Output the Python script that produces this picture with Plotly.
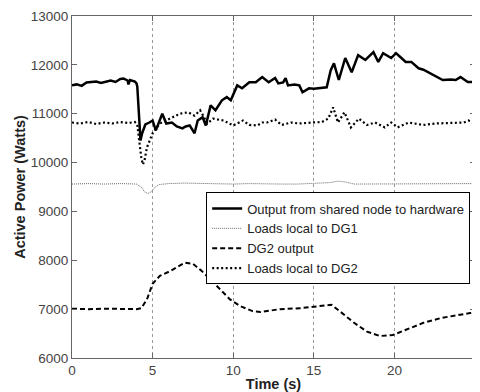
import plotly.graph_objects as go

# Output from shared node to hardware
t_shared = [0, 0.3, 0.6, 0.9, 1.2, 1.5, 1.8, 2.1, 2.4, 2.7, 3.0, 3.2, 3.45, 3.5, 3.6, 3.9, 4.0,
            4.05, 4.15, 4.25, 4.35, 4.55, 4.8, 5.0, 5.2, 5.4, 5.6, 5.85, 6.2, 6.5, 6.85, 7.05,
            7.3, 7.6, 7.8, 8.1, 8.3, 8.6, 8.9, 9.3, 9.6, 9.85, 10.25, 10.55, 11.0, 11.4, 11.8,
            12.2, 12.6, 12.8, 13.1, 13.25, 13.4, 13.8, 14.1, 14.3, 14.7, 15.0, 15.4, 15.8,
            16.05, 16.25, 16.55, 16.95, 17.35, 17.75, 18.2, 18.7, 19.0, 19.3, 19.8, 20.1,
            20.4, 20.7, 21.05, 21.5, 21.8, 22.1, 22.5, 23.0, 23.5, 23.8, 24.1, 24.55, 25.0]
p_shared = [11580, 11600, 11570, 11640, 11650, 11660, 11630, 11650, 11680, 11650, 11710, 11720,
            11680, 11600, 11690, 11660, 11620, 11560, 11000, 10450, 10600, 10780, 10820, 10860,
            10660, 10820, 11000, 10800, 10820, 10740, 10700, 10740, 10760, 10600, 10860, 10930,
            10760, 11170, 11070, 11275, 11340, 11275, 11580, 11520, 11645, 11645, 11750, 11645,
            11730, 11620, 11640, 11730, 11580, 11600, 11580, 11440, 11520, 11510, 11530, 11540,
            11890, 12030, 11690, 12140, 11850, 12200, 12100, 12260, 12060, 12240, 12140, 12240,
            12150, 12060, 12060, 11930, 11900, 11850, 11790, 11690, 11700, 11690, 11750, 11650,
            11650]

# Loads local to DG1
t_dg1 = [0, 1, 2, 3, 4, 4.3, 4.5, 4.7, 4.9, 5.1, 5.4, 6, 7, 8, 9, 10, 11, 12, 13, 14, 15,
         16, 16.5, 17, 17.5, 18, 19, 20, 21, 22, 23, 24, 25]
p_dg1 = [9560, 9570, 9560, 9570, 9560, 9500, 9400, 9365, 9400, 9480, 9550, 9570, 9580, 9570,
         9560, 9560, 9570, 9560, 9560, 9560, 9570, 9590, 9620, 9600, 9560, 9560, 9560, 9560,
         9560, 9570, 9570, 9570, 9570]

# DG2 output
t_dg2 = [0, 1, 2, 3, 4, 4.3, 4.65, 5.0, 5.45, 6.1, 6.5, 7.0, 7.5, 8.05, 8.55, 9.2, 9.8, 10.45,
         11.2, 11.7, 12.9, 14.2, 15.2, 16.1, 16.6, 17.5, 18.3, 19.1, 19.9, 20.8, 21.8, 22.9,
         23.9, 24.7, 25.0]
p_dg2 = [7010, 7000, 7010, 7000, 7000, 7020, 7200, 7520, 7680, 7780, 7850, 7950, 7930, 7780,
         7620, 7410, 7200, 7060, 6960, 6940, 7000, 7020, 7060, 7090, 6960, 6720, 6540, 6450,
         6470, 6590, 6720, 6820, 6880, 6920, 6930]

# Loads local to DG2
t_ld2 = [0, 0.5, 1.0, 1.5, 2.0, 2.5, 3.0, 3.5, 3.9, 4.05, 4.15, 4.3, 4.4, 4.5, 4.65, 5.0, 5.45,
         6.1, 6.7, 7.2, 7.6, 7.95, 8.15, 8.4, 8.75, 9.4, 10.0, 10.6, 11.0, 11.5, 11.8, 12.1,
         12.6, 13.0, 13.6, 14.1, 14.9, 15.5, 15.9, 16.2, 16.5, 16.9, 17.3, 17.8, 18.3, 18.8,
         19.4, 19.8, 20.2, 20.9, 21.8, 22.6, 23.4, 24.3, 24.6, 25.0]
p_ld2 = [10820, 10800, 10830, 10790, 10820, 10800, 10830, 10810, 10830, 10780, 10500, 10100,
         9960, 10050, 10310, 10600, 10800, 10900, 11000, 11030, 10960, 11070, 10960, 10800,
         10900, 10860, 10760, 10860, 10770, 10760, 10820, 10820, 10880, 10770, 10820, 10800,
         10820, 10830, 10900, 11130, 10820, 11030, 10720, 10900, 10770, 10820, 10720, 10820,
         10720, 10820, 10770, 10800, 10810, 10820, 10860, 10800]

names = ["Output from shared node to hardware", "Loads local to DG1", "DG2 output",
         "Loads local to DG2"]

fig = go.Figure()
fig.add_trace(go.Scatter(x=t_shared, y=p_shared, mode="lines", name=names[0],
                         line=dict(color="black", width=2.5)))
fig.add_trace(go.Scatter(x=t_dg1, y=p_dg1, mode="lines", name=names[1],
                         line=dict(color="#666666", width=1, dash="1px,1px")))
fig.add_trace(go.Scatter(x=t_dg2, y=p_dg2, mode="lines", name=names[2],
                         line=dict(color="black", width=2, dash="5px,3px")))
fig.add_trace(go.Scatter(x=t_ld2, y=p_ld2, mode="lines", name=names[3],
                         line=dict(color="black", width=2.2, dash="2px,2.5px")))

axis_common = dict(showline=True, linecolor="#666666", linewidth=1, mirror="ticks",
                   ticks="inside", ticklen=5, tickcolor="#666666", zeroline=False,
                   automargin=False,
                   tickfont=dict(family="Liberation Sans, Arial", size=13.5, color="#444444"))

fig.update_xaxes(range=[0, 25], dtick=5, showgrid=True, gridcolor="#999999", griddash="dot",
                 gridwidth=1,
                 title=dict(text="<b>Time (s)</b>", standoff=6,
                            font=dict(family="Liberation Sans, Arial", size=14.5, color="#222222")),
                 **axis_common)
fig.update_yaxes(range=[6000, 13000], dtick=1000, showgrid=False, tickformat="d",
                 title=dict(text="<b>Active Power (Watts)</b>", standoff=1,
                            font=dict(family="Liberation Sans, Arial", size=14.5, color="#222222")),
                 **axis_common)

fig.update_layout(
    width=472, height=384,
    margin=dict(l=64, r=5, t=8, b=34),
    plot_bgcolor="white", paper_bgcolor="white",
    showlegend=True,
    legend=dict(x=0.988, y=0.484, xanchor="right", yanchor="top",
                bgcolor="white", bordercolor="black", borderwidth=1,
                font=dict(family="Liberation Sans, Arial", size=13, color="#222222"),
                tracegroupgap=0, itemwidth=30),
)

fig.write_html("out.html")
